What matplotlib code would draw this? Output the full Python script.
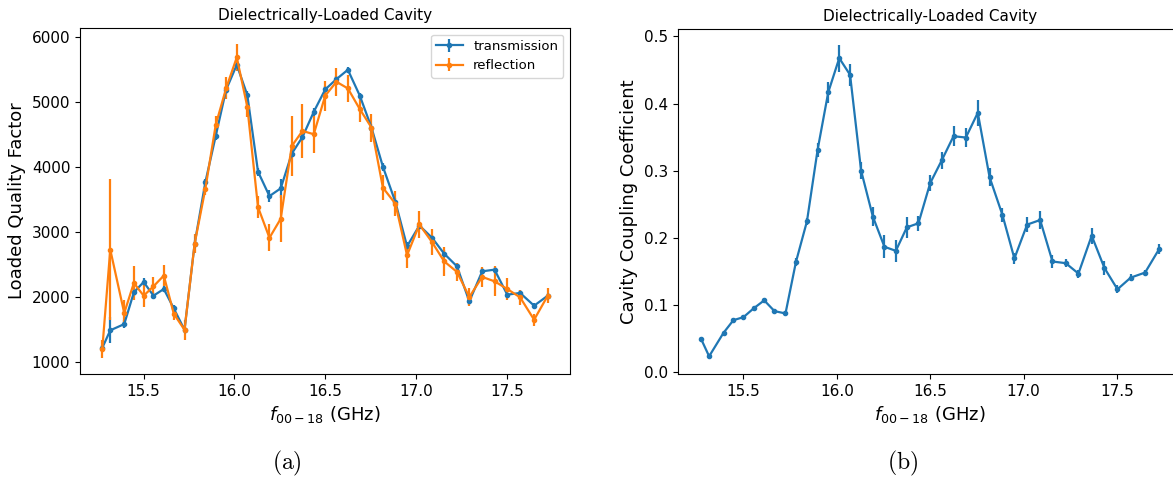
# -*- coding: utf-8 -*-
import numpy as np
import matplotlib
matplotlib.use('Agg')
import matplotlib.pyplot as plt

# 频率 (GHz)
freq = [15.272, 15.316, 15.393, 15.446, 15.500, 15.554, 15.611, 15.666, 15.725, 15.781,
        15.840, 15.897, 15.954, 16.013, 16.071, 16.130, 16.193, 16.255, 16.316, 16.375,
        16.437, 16.500, 16.562, 16.625, 16.691, 16.755, 16.818, 16.887, 16.951, 17.019,
        17.089, 17.155, 17.226, 17.294, 17.365, 17.433, 17.503, 17.574, 17.651, 17.726]

# 透射测得的 Q
q_trans = [1220, 1490, 1586, 2074, 2234, 2023, 2126, 1827, 1498, 2826,
           3772, 4481, 5191, 5577, 5110, 3932, 3556, 3675, 4210, 4466,
           4852, 5197, 5356, 5500, 5100, 4611, 4009, 3463, 2784, 3103,
           2914, 2671, 2475, 1935, 2398, 2424, 2039, 2065, 1869, 2023]
q_trans_err = [40, 200, 60, 60, 60, 50, 50, 50, 40, 50,
               50, 60, 60, 60, 60, 60, 90, 150, 60, 60,
               60, 50, 50, 40, 50, 60, 60, 60, 60, 50,
               50, 50, 50, 50, 50, 40, 40, 40, 40, 40]

# 反射测得的 Q
q_refl = [1200, 2733, 1756, 2219, 2023, 2167, 2332, 1745, 1498, 2826,
          3670, 4652, 5213, 5691, 4930, 3386, 2914, 3207, 4327, 4559,
          4508, 5100, 5315, 5213, 4893, 4611, 3685, 3438, 2645, 3119,
          2846, 2553, 2389, 2003, 2312, 2244, 2126, 1997, 1653, 2023]
q_refl_err = [140, 1080, 200, 260, 170, 150, 160, 100, 150, 140,
              90, 140, 170, 210, 155, 170, 205, 360, 460, 420,
              285, 230, 215, 210, 200, 215, 190, 190, 190, 205,
              200, 220, 140, 140, 155, 230, 170, 110, 90, 120]

# 耦合系数
beta = [0.0499, 0.0235, 0.0584, 0.0773, 0.0818, 0.0948, 0.1068, 0.0908, 0.0873, 0.1640,
        0.2246, 0.3310, 0.4167, 0.4676, 0.4426, 0.3000, 0.2315, 0.1866, 0.1806, 0.2156,
        0.2216, 0.2814, 0.3154, 0.3513, 0.3493, 0.3862, 0.2904, 0.2340, 0.1692, 0.2196,
        0.2265, 0.1647, 0.1622, 0.1467, 0.2031, 0.1552, 0.1233, 0.1407, 0.1482, 0.1831]
beta_err = [0.003, 0.003, 0.003, 0.003, 0.003, 0.003, 0.003, 0.003, 0.003, 0.006,
            0.005, 0.010, 0.016, 0.020, 0.016, 0.0125, 0.014, 0.017, 0.016, 0.016,
            0.011, 0.012, 0.013, 0.015, 0.014, 0.019, 0.0135, 0.0105, 0.008, 0.011,
            0.013, 0.009, 0.006, 0.006, 0.012, 0.010, 0.006, 0.005, 0.004, 0.0075]

plt.rcParams['mathtext.fontset'] = 'dejavusans'

fig = plt.figure(figsize=(11.73, 4.79), dpi=100)
ax1 = fig.add_axes([80 / 1173, 1 - 374 / 479, (570 - 80) / 1173, (374 - 28) / 479])
ax2 = fig.add_axes([678 / 1173, 1 - 374 / 479, 504 / 1173, (374 - 29) / 479])

xlab = r'$f_{00-18}$ (GHz)'

ax1.errorbar(freq, q_trans, yerr=q_trans_err, fmt='.-', color='C0', ms=6, lw=1.6,
             label='transmission')
ax1.errorbar(freq, q_refl, yerr=q_refl_err, fmt='.-', color='C1', ms=6, lw=1.6,
             label='reflection')
ax1.set_title('Dielectrically-Loaded Cavity', fontsize=11)
ax1.set_ylabel('Loaded Quality Factor', fontsize=13)
ax1.set_xlabel(xlab, fontsize=13)
ax1.set_xticks([15.5, 16.0, 16.5, 17.0, 17.5])
ax1.set_yticks([1000, 2000, 3000, 4000, 5000, 6000])
ax1.tick_params(labelsize=11)
ax1.legend(loc='upper right', fontsize=9.5)

ax2.errorbar(freq, beta, yerr=beta_err, fmt='.-', color='C0', ms=6, lw=1.6)
ax2.set_title('Dielectrically-Loaded Cavity', fontsize=11)
ax2.set_ylabel('Cavity Coupling Coefficient', fontsize=13)
ax2.set_xlabel(xlab, fontsize=13)
ax2.set_xticks([15.5, 16.0, 16.5, 17.0, 17.5])
ax2.set_yticks([0.0, 0.1, 0.2, 0.3, 0.4, 0.5])
ax2.tick_params(labelsize=11)

fig.text(287 / 1173, 1 - 463 / 479, r'$\mathrm{(a)}$', ha='center', va='center',
         fontsize=17, math_fontfamily='cm')
fig.text(903 / 1173, 1 - 463 / 479, r'$\mathrm{(b)}$', ha='center', va='center',
         fontsize=17, math_fontfamily='cm')

fig.savefig('out.png', dpi=100)
